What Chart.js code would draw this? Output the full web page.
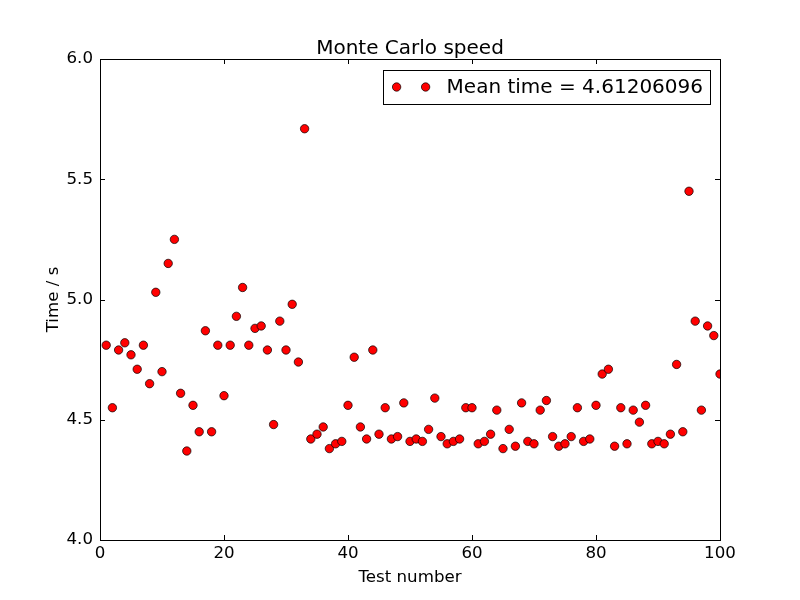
<!DOCTYPE html>
<html><head><meta charset="utf-8">
<script src="https://cdn.jsdelivr.net/npm/chart.js@4/dist/chart.umd.min.js"></script>
<style>html,body{margin:0;padding:0;background:#fff}canvas{display:block}</style>
</head><body>
<canvas id="c" width="800" height="600"></canvas>
<script>
const testNumber = [1,2,3,4,5,6,7,8,9,10,11,12,13,14,15,16,17,18,19,20,
  21,22,23,24,25,26,27,28,29,30,31,32,33,34,35,36,37,38,39,40,
  41,42,43,44,45,46,47,48,49,50,51,52,53,54,55,56,57,58,59,60,
  61,62,63,64,65,66,67,68,69,70,71,72,73,74,75,76,77,78,79,80,
  81,82,83,84,85,86,87,88,89,90,91,92,93,94,95,96,97,98,99,100];
const timeValues = [4.81,4.55,4.79,4.82,4.77,4.71,4.81,4.65,5.03,4.70,
  5.15,5.25,4.61,4.37,4.56,4.45,4.87,4.45,4.81,4.60,
  4.81,4.93,5.05,4.81,4.88,4.89,4.79,4.48,4.91,4.79,
  4.98,4.74,5.71,4.42,4.44,4.47,4.38,4.40,4.41,4.56,
  4.76,4.47,4.42,4.79,4.44,4.55,4.42,4.43,4.57,4.41,
  4.42,4.41,4.46,4.59,4.43,4.40,4.41,4.42,4.55,4.55,
  4.40,4.41,4.44,4.54,4.38,4.46,4.39,4.57,4.41,4.40,
  4.54,4.58,4.43,4.39,4.40,4.43,4.55,4.41,4.42,4.56,
  4.69,4.71,4.39,4.55,4.40,4.54,4.49,4.56,4.40,4.41,
  4.40,4.44,4.73,4.45,5.45,4.91,4.54,4.89,4.85,4.69];
const xTicks = [0,20,40,60,80,100];
const yTicks = [4.0,4.5,5.0,5.5,6.0];
const chartTitle = 'Monte Carlo speed';
const xLabel = 'Test number';
const yLabel = 'Time / s';
const legendLabel = 'Mean time = 4.61206096';

Chart.defaults.font.family = "'DejaVu Sans', sans-serif";
Chart.defaults.color = '#000';

const points = testNumber.map((x, i) => ({x: x, y: timeValues[i]}));

const framePlugin = {
  id: 'frame',
  afterDatasetsDraw(chart) {
    const {ctx, chartArea: a, scales} = chart;
    ctx.save();
    ctx.strokeStyle = '#000';
    ctx.lineWidth = 1;
    // inward ticks
    ctx.beginPath();
    xTicks.forEach(v => {
      const px = Math.round(scales.x.getPixelForValue(v)) + 0.5;
      ctx.moveTo(px, a.bottom); ctx.lineTo(px, a.bottom - 5);
      ctx.moveTo(px, a.top); ctx.lineTo(px, a.top + 5);
    });
    yTicks.forEach(v => {
      const py = Math.round(scales.y.getPixelForValue(v)) + 0.5;
      ctx.moveTo(a.left, py); ctx.lineTo(a.left + 5, py);
      ctx.moveTo(a.right, py); ctx.lineTo(a.right - 5, py);
    });
    ctx.stroke();
    ctx.strokeRect(Math.round(a.left) + 0.5, Math.round(a.top) + 0.5,
      Math.round(a.right - a.left), Math.round(a.bottom - a.top));
    ctx.restore();
  },
  afterDraw(chart) {
    const {ctx, chartArea: a} = chart;
    ctx.save();
    // title
    ctx.font = "20px 'DejaVu Sans'";
    ctx.fillStyle = '#000';
    ctx.textAlign = 'center';
    ctx.textBaseline = 'alphabetic';
    ctx.fillText(chartTitle, (a.left + a.right) / 2, 54);
    // legend
    ctx.font = "20px 'DejaVu Sans'";
    const tw = ctx.measureText(legendLabel).width;
    const boxR = Math.round(a.right - 10);
    const textX = boxR - 7 - tw;
    const m2 = textX - 21;
    const m1 = m2 - 29;
    const boxL = Math.round(m1 - 14);
    const boxT = Math.round(a.top + 11);
    const boxB = boxT + 34;
    const cy = (boxT + boxB) / 2;
    ctx.fillStyle = '#fff';
    ctx.fillRect(boxL, boxT, boxR - boxL, boxB - boxT);
    ctx.strokeStyle = '#000';
    ctx.lineWidth = 1;
    ctx.strokeRect(boxL + 0.5, boxT + 0.5, boxR - boxL, boxB - boxT);
    [m1, m2].forEach(mx => {
      ctx.beginPath();
      ctx.arc(mx, cy, 4.2, 0, Math.PI * 2);
      ctx.fillStyle = '#ff0000';
      ctx.fill();
      ctx.lineWidth = 0.7;
      ctx.strokeStyle = '#000';
      ctx.stroke();
    });
    ctx.fillStyle = '#000';
    ctx.textAlign = 'left';
    ctx.textBaseline = 'middle';
    ctx.fillText(legendLabel, textX, cy + 1);
    ctx.restore();
  }
};

new Chart(document.getElementById('c'), {
  type: 'scatter',
  data: {
    datasets: [{
      label: legendLabel,
      data: points,
      backgroundColor: '#ff0000',
      borderColor: '#000',
      borderWidth: 0.7,
      pointRadius: 4.2,
      pointHoverRadius: 4.2,
      clip: 0
    }]
  },
  options: {
    responsive: false,
    animation: false,
    devicePixelRatio: 1,
    events: [],
    layout: {padding: {top: 59, right: 80, left: 0, bottom: 0}},
    plugins: {legend: {display: false}, title: {display: false}, tooltip: {enabled: false}},
    scales: {
      x: {
        type: 'linear', min: 0, max: 100,
        afterBuildTicks: s => { s.ticks = xTicks.map(v => ({value: v})); },
        afterFit: s => { s.height = 60; },
        grid: {display: false, drawTicks: false},
        border: {display: false},
        ticks: {padding: 4, font: {size: 16.67}, maxRotation: 0, callback: v => String(v)},
        title: {display: true, text: xLabel, font: {size: 16.67}, padding: {top: 0, bottom: 12}}
      },
      y: {
        type: 'linear', min: 4, max: 6,
        afterBuildTicks: s => { s.ticks = yTicks.map(v => ({value: v})); },
        afterFit: s => { s.width = 100; },
        grid: {display: false, drawTicks: false},
        border: {display: false},
        ticks: {padding: 7, font: {size: 16.67}, callback: v => Number(v).toFixed(1)},
        title: {display: true, text: yLabel, font: {size: 16.67}, padding: {top: 44, bottom: 0}}
      }
    }
  },
  plugins: [framePlugin]
});
</script>
</body></html>
